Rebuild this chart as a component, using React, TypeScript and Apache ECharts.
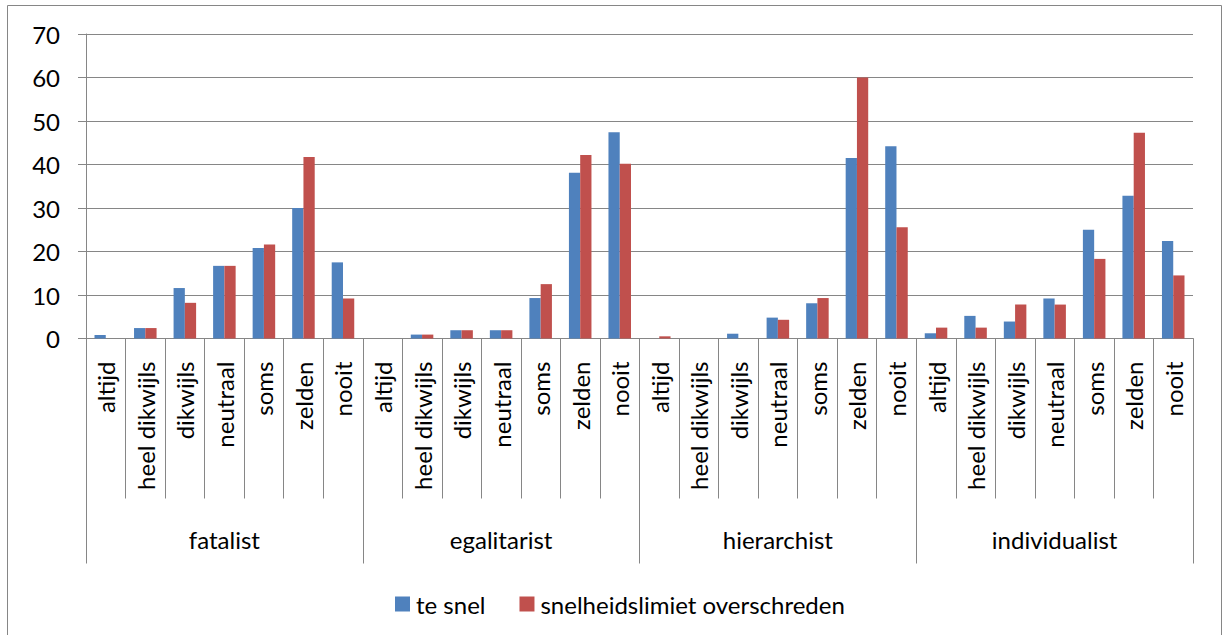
import React, { useEffect, useRef } from "react";
import * as echarts from "echarts";

const groups = ["fatalist", "egalitarist", "hierarchist", "individualist"];
const levels = ["altijd", "heel dikwijls", "dikwijls", "neutraal", "soms", "zelden", "nooit"];
const yTicks = [0, 10, 20, 30, 40, 50, 60, 70];

const teSnel = [
  0.8, 2.4, 11.6, 16.7, 20.8, 30.0, 17.5,
  0, 0.9, 1.9, 1.9, 9.3, 38.1, 47.4,
  0, 0, 1.1, 4.8, 8.1, 41.5, 44.2,
  1.2, 5.2, 3.9, 9.2, 25.0, 32.8, 22.4,
];
const overschreden = [
  0, 2.4, 8.2, 16.7, 21.6, 41.7, 9.2,
  0, 0.9, 1.9, 1.9, 12.5, 42.2, 40.2,
  0.5, 0, 0, 4.3, 9.3, 60.0, 25.6,
  2.5, 2.5, 7.8, 7.8, 18.3, 47.3, 14.5,
];

const seriesNames = ["te snel", "snelheidslimiet overschreden"];

export default function App() {
  const ref = useRef<HTMLDivElement>(null);
  useEffect(() => {
    if (!ref.current) return;
    const chart = echarts.init(ref.current, null, { renderer: "svg" });
    const font = "Lato";
    const fs = 24;
    const gray = "#868686";
    const categories = groups.flatMap((g) => levels.map((l) => g + "|" + l));
    chart.setOption({
      animation: false,
      backgroundColor: "#ffffff",
      textStyle: { fontFamily: font },
      graphic: [
        {
          type: "rect",
          shape: { x: 7.5, y: 5.5, width: 1214, height: 700 },
          style: { fill: "none", stroke: gray, lineWidth: 1 },
          silent: true,
        },
      ],
      grid: { left: 86, right: 30, top: 34, bottom: 296.5, containLabel: false },
      legend: {
        left: 390,
        top: 587,
        itemWidth: 15,
        itemHeight: 15,
        itemGap: 34,
        icon: "rect",
        textStyle: { fontFamily: font, fontSize: fs, color: "#000", padding: [0, 0, 0, 1] },
        data: seriesNames,
      },
      xAxis: [
        {
          type: "category",
          data: categories,
          position: "bottom",
          axisLine: { show: true, lineStyle: { color: gray, width: 1 } },
          axisTick: { show: true, length: 160, interval: 0, lineStyle: { color: gray, width: 1 } },
          axisLabel: {
            interval: 0,
            rotate: 90,
            margin: 23,
            fontFamily: font,
            fontSize: fs,
            color: "#000",
            formatter: (v: string) => v.split("|")[1],
          },
        },
        {
          type: "category",
          data: groups,
          position: "bottom",
          axisLine: { show: false },
          axisTick: { show: true, length: 225, interval: 0, lineStyle: { color: gray, width: 1 } },
          axisLabel: {
            interval: 0,
            margin: 189,
            fontFamily: font,
            fontSize: fs,
            color: "#000",
          },
        },
      ],
      yAxis: {
        type: "value",
        min: 0,
        max: 70,
        interval: 10,
        axisLine: { show: true, lineStyle: { color: gray, width: 1 } },
        axisTick: { show: true, length: 8, lineStyle: { color: gray, width: 1 } },
        splitLine: { show: true, lineStyle: { color: gray, width: 1 } },
        axisLabel: {
          margin: 26,
          fontFamily: font,
          fontSize: fs,
          color: "#000",
          formatter: (v: number) => (yTicks.includes(v) ? String(v) : ""),
        },
      },
      series: [
        {
          name: seriesNames[0],
          type: "bar",
          xAxisIndex: 0,
          data: teSnel,
          itemStyle: { color: "#4F81BD" },
          barGap: "0%",
          barCategoryGap: "43%",
        },
        {
          name: seriesNames[1],
          type: "bar",
          xAxisIndex: 0,
          data: overschreden,
          itemStyle: { color: "#C0504D" },
          barGap: "0%",
          barCategoryGap: "43%",
        },
      ],
    });
    return () => chart.dispose();
  }, []);
  return (
    <div
      ref={ref}
      style={{ position: "absolute", left: 0, top: 0, width: 1223, height: 635 }}
    />
  );
}
